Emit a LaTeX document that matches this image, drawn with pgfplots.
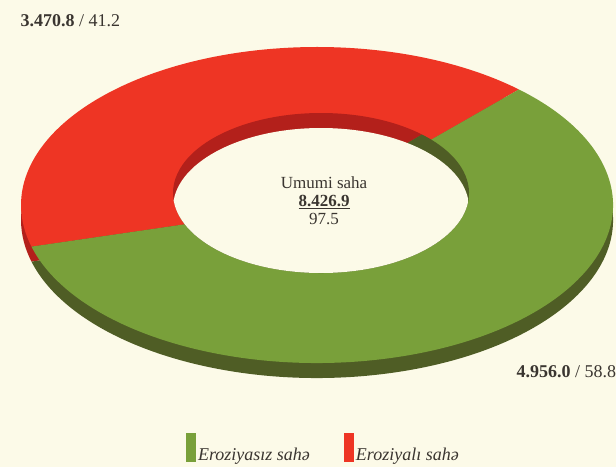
\documentclass[border=0pt]{standalone}
\usepackage{fontspec}
\setmainfont{Liberation Serif}
\usepackage{pgfplots}
\pgfplotsset{compat=1.18}

\definecolor{bg}{HTML}{FCFAE8}
\definecolor{redtop}{HTML}{EE3524}
\definecolor{redside}{HTML}{B3201B}
\definecolor{greentop}{HTML}{79A03A}
\definecolor{greenside}{HTML}{4F5D25}
\definecolor{txt}{HTML}{3A3530}

% values: Eroziyali saha, Eroziyasiz saha
\def\vRed{3470.8}
\def\vGreen{4956.0}

\begin{document}
\begin{tikzpicture}
\pgfmathsetmacro\tot{\vRed+\vGreen}
\pgfmathsetmacro\frac{\vRed/\tot}
\pgfmathsetmacro\aS{47}
\pgfmathsetmacro\aM{\aS+360*\frac}
\pgfmathsetmacro\aE{\aS+360}
% geometry (axis units = pt)
\def\cx{317}\def\cy{262}\def\rx{296}\def\ry{158}
\def\icx{321}\def\icy{274}\def\irx{148}\def\iry{80}
\def\dep{15}
\begin{axis}[
    width=616pt, height=467pt, scale only axis,
    xmin=0, xmax=616, ymin=0, ymax=467,
    hide axis, clip=false,
    legend columns=2,
    legend style={draw=none, fill=none, at={(0.297,0.04)}, anchor=west,
        font=\itshape\fontsize{18}{20}\selectfont, text=txt,
        /tikz/every even column/.append style={column sep=32pt}},
    legend image code/.code={\fill[#1, draw=none] (0pt,-7pt) rectangle (10pt,22pt);},
]
\fill[bg] (axis cs:0,0) rectangle (axis cs:616,467);
% outer side wall (shifted ellipse)
\fill[redside] (axis cs:\cx,\cy-\dep) -- ++(\aS:\rx pt and \ry pt)
    arc[start angle=\aS, end angle=\aM, x radius=\rx pt, y radius=\ry pt] -- cycle;
\fill[greenside] (axis cs:\cx,\cy-\dep) -- ++(\aM:\rx pt and \ry pt)
    arc[start angle=\aM, end angle=\aE, x radius=\rx pt, y radius=\ry pt] -- cycle;
% top surface
\fill[redtop] (axis cs:\cx,\cy) -- ++(\aS:\rx pt and \ry pt)
    arc[start angle=\aS, end angle=\aM, x radius=\rx pt, y radius=\ry pt] -- cycle;
\fill[greentop] (axis cs:\cx,\cy) -- ++(\aM:\rx pt and \ry pt)
    arc[start angle=\aM, end angle=\aE, x radius=\rx pt, y radius=\ry pt] -- cycle;
% inner wall
\fill[redside] (axis cs:\icx,\icy) -- ++(\aS:\irx pt and \iry pt)
    arc[start angle=\aS, end angle=\aM, x radius=\irx pt, y radius=\iry pt] -- cycle;
\fill[greenside] (axis cs:\icx,\icy) -- ++(\aM:\irx pt and \iry pt)
    arc[start angle=\aM, end angle=\aE, x radius=\irx pt, y radius=\iry pt] -- cycle;
\begin{scope}
\clip (axis cs:\icx,\icy) ellipse[x radius=\irx pt, y radius=\iry pt];
\fill[bg] (axis cs:\icx,\icy-\dep) ellipse[x radius=\irx pt, y radius=\iry pt];
\end{scope}
% labels
\node[anchor=west, text=txt, font=\fontsize{18}{20}\selectfont] at (axis cs:17,446)
    {\textbf{3.470.8} / 41.2};
\node[anchor=west, text=txt, font=\fontsize{18}{20}\selectfont] at (axis cs:513,95)
    {\textbf{4.956.0} / 58.8};
\node[text=txt, font=\fontsize{17}{19}\selectfont] at (axis cs:324,284) {Umumi saha};
\node[text=txt, font=\bfseries\fontsize{17}{19}\selectfont] at (axis cs:324,265) {\underline{8.426.9}};
\node[text=txt, font=\fontsize{17}{19}\selectfont] at (axis cs:324,248) {97.5};
\addlegendimage{fill=greentop}
\addlegendentry{Eroziyasız sahə}
\addlegendimage{fill=redtop}
\addlegendentry{Eroziyalı sahə}
\end{axis}
\pgfresetboundingbox
\path (0,0) rectangle (616pt,467pt);
\end{tikzpicture}
\end{document}
